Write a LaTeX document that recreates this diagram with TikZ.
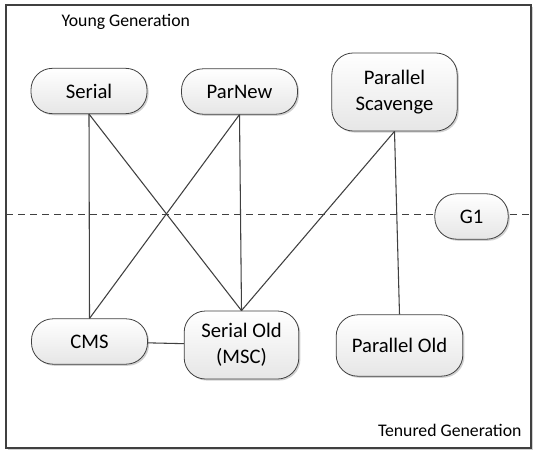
\documentclass[tikz,border=0pt]{standalone}
\usepackage{fontspec}
\setmainfont{Carlito}
\usetikzlibrary{shadows}
\definecolor{linegray}{HTML}{404040}
\definecolor{boxgray}{HTML}{E6E6E6}
\begin{document}
\begin{tikzpicture}[x=0.75pt, y=-0.75pt, line width=0.8pt, draw=linegray,
	softshadow/.style={drop shadow={shadow xshift=1.2pt, shadow yshift=-1.2pt, opacity=0.18, fill=black}},
	gc/.style={draw=linegray, line width=0.6pt, rounded corners=16pt, top color=white, bottom color=boxgray,
		align=center, inner sep=2pt, minimum width=87pt, minimum height=34pt, softshadow,
		font=\fontsize{15.5}{19.5}\selectfont},
	label/.style={inner sep=0pt, font=\fontsize{13.3}{16}\selectfont}]
	\useasboundingbox (0,0) rectangle (538,456);
	% frame and generation boundary
	\draw[line width=0.9pt, fill=white, softshadow] (6,5) rectangle (531,448);
	\coordinate (bl) at (6,214);
	\coordinate (br) at (531,214);
	\draw[dash pattern=on 5.5pt off 3.5pt, line width=0.6pt] (bl) -- (br);
	\node (young)	at ( 61, 27)	[label, anchor=base west]	{Young Generation};
	\node (tenured)	at (522,436)	[label, anchor=base east]	{Tenured Generation};
	% collectors
	\node (Serial)		at ( 89.0, 91.0)	[gc]	{Serial};
	\node (ParNew)		at (239.5, 91.5)	[gc]	{ParNew};
	\node (PS)		at (394.5, 92.0)	[gc, minimum width=94pt, minimum height=58.5pt]	{Parallel\\Scavenge};
	\node (G1)		at (471.5,216.5)	[gc, minimum width=55pt]	{G1};
	\node (CMS)		at ( 89.5,341.5)	[gc]	{CMS};
	\node (SerialOld)	at (241.5,345.0)	[gc, minimum width=86pt, minimum height=51pt]	{Serial Old\\(MSC)};
	\node (ParallelOld)	at (399.5,345.5)	[gc, minimum width=95pt, minimum height=46pt]	{Parallel Old};
	\draw (Serial.south) -- (CMS.north);
	\draw (Serial.south) -- (SerialOld.north);
	\draw (ParNew.south) -- (CMS.north);
	\draw (ParNew.south) -- (SerialOld.north);
	\draw (PS.south) -- (SerialOld.north);
	\draw (PS.south) -- (ParallelOld.north);
	\draw (CMS) -- (SerialOld);
\end{tikzpicture}
\end{document}
